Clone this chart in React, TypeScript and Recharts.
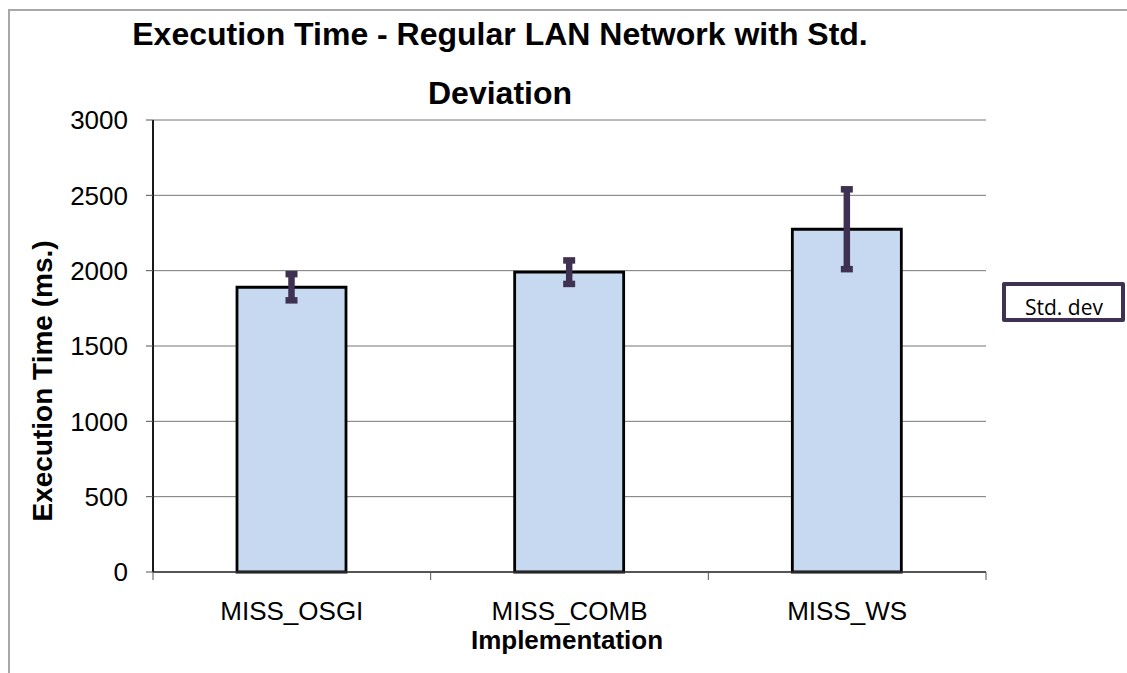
import React from 'react';
import { BarChart, Bar, XAxis, YAxis, CartesianGrid, ErrorBar } from 'recharts';

const categories = ['MISS_OSGI', 'MISS_COMB', 'MISS_WS'];
const meanTimes = [1890, 1990, 2275];
const stdDevs = [87, 78, 265];
const yTicks = [0, 500, 1000, 1500, 2000, 2500, 3000];
const xBoundaryTicks = [0, 0.5, 1, 1.5, 2, 2.5, 3];
const titleLines = ['Execution Time - Regular LAN Network with Std.', 'Deviation'];
const yTitle = 'Execution Time (ms.)';
const xTitle = 'Implementation';
const legendLabel = 'Std. dev';

const data = categories.map((c, i) => ({ name: c, pos: i + 0.5, value: meanTimes[i], std: stdDevs[i] }));

const FONT = '"Liberation Sans", Arial, sans-serif';

const XTick = (props: any) => {
  const { x, y, payload } = props;
  const v = payload.value as number;
  if (Number.isInteger(v)) {
    return <line x1={x} y1={y} x2={x} y2={y + 8} stroke="#555" strokeWidth={1} />;
  }
  return (
    <text x={x} y={y + 48} textAnchor="middle" fontFamily={FONT} fontSize={26} fill="#000">
      {categories[Math.floor(v)]}
    </text>
  );
};

export default function App() {
  return (
    <div style={{ position: 'absolute', left: 0, top: 0, width: 1127, height: 673, background: '#fff', overflow: 'hidden' }}>
      <div style={{ position: 'absolute', left: 8, top: 9, width: 1200, height: 700, borderLeft: '2px solid #a8a8a8', borderTop: '2px solid #a8a8a8' }} />
      <div style={{ position: 'absolute', left: 0, top: 0 }}>
        <BarChart width={1127} height={673} data={data} margin={{ top: 120, right: 141, bottom: 0, left: 0 }}>
          <CartesianGrid horizontal vertical={false} stroke="#777" strokeWidth={1} />
          <XAxis dataKey="name" hide height={0} />
          <XAxis
            xAxisId="top"
            orientation="top"
            dataKey="name"
            tick={false}
            tickLine={false}
            height={0}
            axisLine={{ stroke: '#8c8c8c', strokeWidth: 2 }}
          />
          <XAxis
            xAxisId="num"
            type="number"
            dataKey="pos"
            domain={[0, 3]}
            ticks={xBoundaryTicks}
            interval={0}
            allowDataOverflow
            tick={<XTick />}
            tickLine={false}
            tickSize={0}
            tickMargin={0}
            height={101}
            axisLine={{ stroke: '#333', strokeWidth: 1.5 }}
          />
          <YAxis
            domain={[0, 3000]}
            ticks={yTicks}
            interval={0}
            width={153}
            tickSize={7}
            tickMargin={18}
            tickLine={{ stroke: '#555' }}
            axisLine={{ stroke: '#1a1a1a', strokeWidth: 2 }}
            tick={{ fontFamily: FONT, fontSize: 26, fill: '#000' }}
          />
          <YAxis
            yAxisId="r"
            orientation="right"
            domain={[0, 3000]}
            width={0}
            tick={false}
            tickLine={false}
            axisLine={{ stroke: '#8c8c8c', strokeWidth: 2 }}
          />
          <Bar dataKey="value" fill="#c6d9f1" stroke="#000" strokeWidth={2.8} barSize={109} isAnimationActive={false}>
            <ErrorBar dataKey="std" direction="y" width={6} strokeWidth={6.5} stroke="#3f3151" isAnimationActive={false} />
          </Bar>
        </BarChart>
      </div>
      <svg width={1127} height={673} style={{ position: 'absolute', left: 0, top: 0, pointerEvents: 'none' }}>
        <text x={500} y={45} textAnchor="middle" fontFamily={FONT} fontWeight="bold" fontSize={32} fill="#000">{titleLines[0]}</text>
        <text x={500} y={104} textAnchor="middle" fontFamily={FONT} fontWeight="bold" fontSize={32} fill="#000">{titleLines[1]}</text>
        <text x={52} y={381} transform="rotate(-90 52 381)" textAnchor="middle" fontFamily={FONT} fontWeight="bold" fontSize={28} fill="#000">{yTitle}</text>
        <text x={567} y={649} textAnchor="middle" fontFamily={FONT} fontWeight="bold" fontSize={26} fill="#000">{xTitle}</text>
      </svg>
      <div style={{ position: 'absolute', left: 1002, top: 282, width: 123, height: 40, boxSizing: 'border-box', border: '4px solid #3f3151', borderRadius: 2, background: '#fff', overflow: 'hidden' }}>
        <div style={{ position: 'absolute', left: 19, top: 8, fontFamily: '"Open Sans", sans-serif', fontSize: 21, lineHeight: '27px', color: '#000', whiteSpace: 'nowrap' }}>{legendLabel}</div>
      </div>
    </div>
  );
}
